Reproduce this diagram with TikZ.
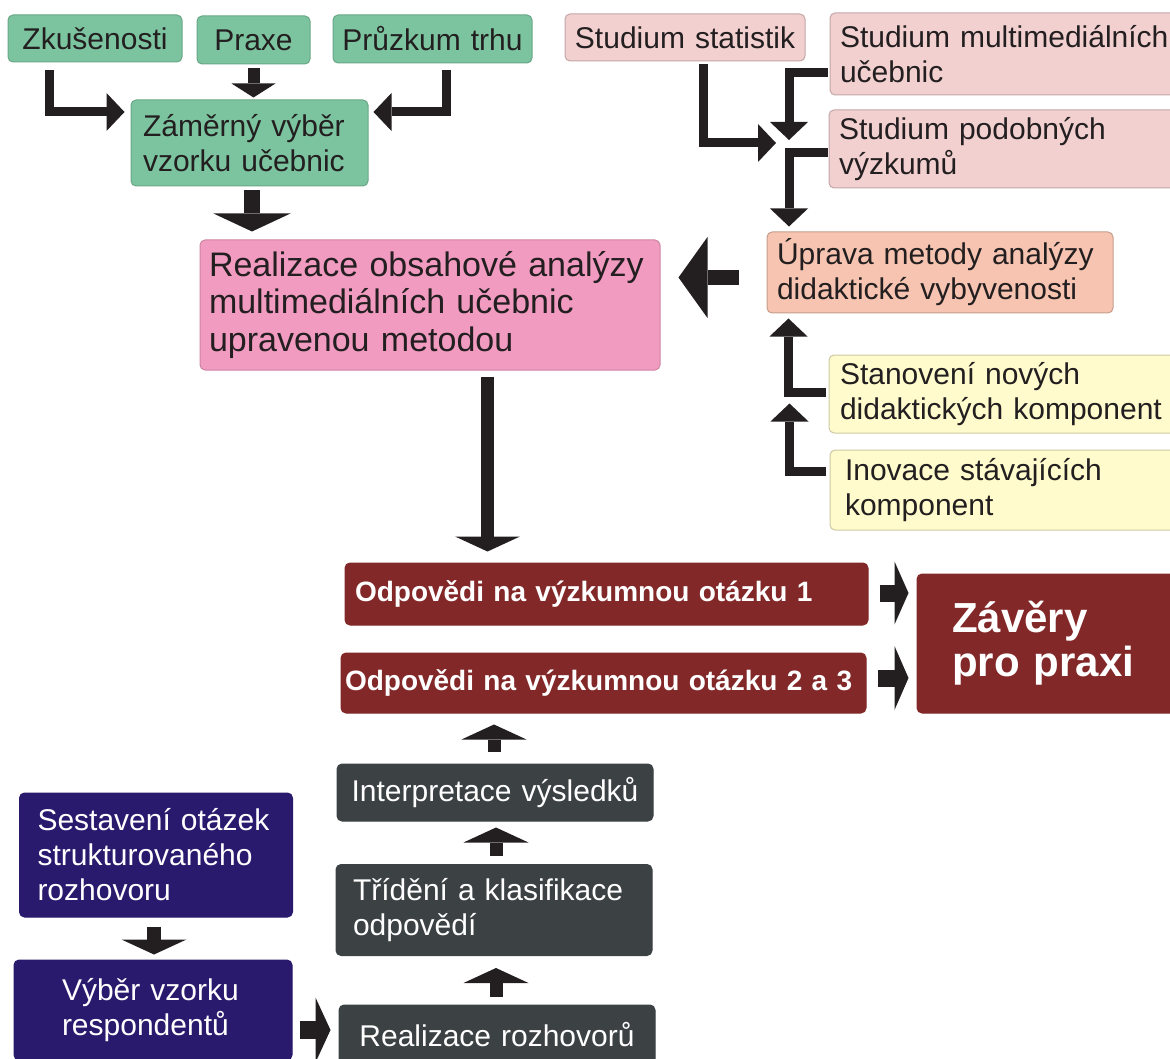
\documentclass[tikz,border=0pt]{standalone}
\usepackage{fontspec}
\setmainfont{Liberation Sans}
\usetikzlibrary{arrows.meta,calc}

\definecolor{cerna}{HTML}{231F20}
\definecolor{zelena}{HTML}{7CC49F}
\definecolor{ruzova}{HTML}{F2D0D0}
\definecolor{fialova}{HTML}{F19BC0}
\definecolor{losos}{HTML}{F6C4B0}
\definecolor{zluta}{HTML}{FFFBCC}
\definecolor{vinova}{HTML}{832829}
\definecolor{seda}{HTML}{3C4143}
\definecolor{modra}{HTML}{291A6E}

\newcommand{\pismo}{\fontsize{30}{35}\selectfont}
\newcommand{\pismovelke}{\fontsize{34}{37.5}\selectfont}
\newcommand{\pismotucne}{\bfseries\fontsize{28}{32}\selectfont}
\newcommand{\pismozavery}{\bfseries\fontsize{42}{44}\selectfont}

\tikzset{
	krok/.style={rounded corners=5pt, align=left, inner ysep=0pt, font=\pismo, text=cerna, line width=1pt},
	zeleny/.style={krok, fill=zelena, draw=zelena!85!black},
	ruzovy/.style={krok, fill=ruzova, draw=ruzova!80!black},
	fialovy/.style={krok, fill=fialova, draw=fialova!85!black},
	lososovy/.style={krok, fill=losos, draw=losos!80!black},
	zluty/.style={krok, fill=zluta, draw=zluta!80!black},
	vinovy/.style={krok, fill=vinova, draw=vinova, text=white, font=\pismotucne},
	sedy/.style={krok, fill=seda, draw=seda, text=white},
	modry/.style={krok, fill=modra, draw=modra, text=white},
	sipka/.style={draw=cerna, line width=9pt, line join=miter, -{Triangle[width=38pt,length=18pt,line width=0pt]}},
	tlusta/.style={draw=cerna, line width=14pt, -{Triangle[width=65pt,length=15pt,line width=0pt]}}
}

\begin{document}
\begin{tikzpicture}[x=1pt,y=-1pt]
				\useasboundingbox (0,0) rectangle (1170,1059);
				
				% Výběr učebnic
				\node[zeleny, align=center, text width=164pt, inner xsep=5pt, minimum height=47pt] (zkus) at (95,38.5) {Zkušenosti};
				\node[zeleny, align=center, text width=103pt, inner xsep=5pt, minimum height=48pt] (praxe) at (253.5,40) {Praxe};
				\node[zeleny, align=center, text width=189pt, inner xsep=5pt, minimum height=48pt] (pruzkum) at (432.5,39) {Průzkum trhu};
				\node[zeleny, text width=213pt, inner xsep=12pt, minimum height=86pt] (zamer) at (249.5,143) {Záměrný výběr\\vzorku učebnic};
				
				% Obsahová analýza
				\node[fialovy, font=\pismovelke, text width=442pt, inner xsep=9pt, minimum height=130pt] (realiz) at (430,305) {Realizace obsahové analýzy\\multimediálních učebnic\\upravenou metodou};
				
				% Úprava metody
				\node[ruzovy, align=center, text width=230pt, inner xsep=5pt, minimum height=47pt] (statist) at (685,37.5) {Studium statistik};
				\node[ruzovy, text width=335pt, inner xsep=10pt, minimum height=82pt] (multi) at (1007.5,54) {Studium multimediálních\\učebnic};
				\node[ruzovy, text width=336pt, inner xsep=10pt, minimum height=78pt] (podob) at (1007,149) {Studium podobných\\výzkumů};
				\node[lososovy, text width=326pt, inner xsep=10pt, minimum height=81pt] (uprava) at (940,272.5) {Úprava metody analýzy\\didaktické vybyvenosti};
				\node[zluty, text width=334pt, inner xsep=11pt, minimum height=78pt] (stanov) at (1007,394) {Stanovení nových\\didaktických komponent};
				\node[zluty, text width=325pt, inner xsep=15pt, minimum height=80pt] (inov) at (1007.5,490) {Inovace stávajících\\komponent};
				\coordinate (spoj) at (789,143);
				
				% Odpovědi a závěry
				\node[vinovy, text width=503pt, inner xsep=10pt, minimum height=62pt] (odp1) at (606.5,594) {Odpovědi na výzkumnou otázku 1};
				\node[vinovy, text width=517pt, inner xsep=4pt, minimum height=60pt] (odp23) at (603.5,683) {Odpovědi na výzkumnou otázku 2 a 3};
				\node[vinovy, font=\pismozavery, text width=198pt, inner xsep=35pt, minimum height=139pt] (zavery) at (1051,643.5) {Závěry\\pro praxi};
				
				% Rozhovory
				\node[sedy, align=center, text width=306pt, inner xsep=5pt, minimum height=57pt] (interp) at (495,792.5) {Interpretace výsledků};
				\node[sedy, text width=282pt, inner xsep=17pt, minimum height=91pt] (trid) at (494,910) {Třídění a klasifikace\\odpovědí};
				\node[sedy, align=center, text width=306pt, inner xsep=5pt, minimum height=60pt] (realroz) at (497,1035) {Realizace rozhovorů};
				\node[modry, text width=237pt, inner xsep=18pt, minimum height=124pt] (sestav) at (156,855) {Sestavení otázek\\strukturovaného\\rozhovoru};
				\node[modry, text width=182pt, inner xsep=48pt, minimum height=100pt] (vyber) at (153,1010) {Výběr vzorku\\respondentů};
				
				% Šipky nahoře
				\draw[sipka] ($(zkus.south west)+(42,8)$) |- ($(zamer.west)+(-6,-31)$);
				\draw[sipka, line width=12pt, -{Triangle[width=44pt,length=14pt,line width=0pt]}] ($(praxe.south)+(0,4)$) -- ($(praxe.south |- zamer.north)+(0,-2)$);
				\draw[sipka] ($(pruzkum.south east)+(-86,7)$) |- ($(zamer.east)+(5,-31)$);
				\draw[tlusta, line width=16pt, -{Triangle[width=77pt,length=18pt,line width=0pt]}] ($(zamer.south)+(2.5,4)$) -- ($(zamer.south |- realiz.north)+(2.5,-8)$);
				\draw[sipka] ($(statist.south)+(18,3)$) |- ($(spoj)+(-13,0)$);
				\draw[sipka] ($(multi.west)+(-2,19)$) -| ($(spoj)+(0,-3)$);
				\draw[sipka] ($(podob.west)+(-1,4)$) -| ($(spoj |- uprava.north)+(0,-5)$);
				\draw[tlusta, line width=15pt, -{Triangle[width=81pt,length=29pt,line width=0pt]}] ($(uprava.west)+(-28,5)$) -- ($(realiz.east |- uprava.west)+(18,5)$);
				\draw[sipka] ($(stanov.west)+(-3,-2)$) -| ($(uprava.south west)+(22,5)$);
				\draw[sipka] ($(inov.west)+(-4,-19)$) -| ($(stanov.south west)+(-39,-30)$);
				
				% Šipky dole
				\draw[tlusta, line width=13pt] ($(realiz.south)+(57.5,6)$) -- ($(realiz.south |- odp1.north)+(57.5,-11)$);
				\draw[tlusta, line width=17pt, -{Triangle[width=63pt,length=14pt,line width=0pt]}] ($(odp1.east)+(11,-1)$) -- ($(zavery.west |- odp1.east)+(-8,-1)$);
				\draw[tlusta, line width=17pt, -{Triangle[width=64pt,length=14pt,line width=0pt]}] ($(odp23.east)+(11,-5)$) -- ($(zavery.west |- odp23.east)+(-8,-5)$);
				\draw[tlusta, line width=13pt] ($(interp.north)+(-1,-12)$) -- ($(interp.north |- odp23.south)+(-1,11)$);
				\draw[tlusta, line width=13pt] ($(trid.north)+(2,-8)$) -- ($(trid.north |- interp.south)+(2,6)$);
				\draw[tlusta, line width=13pt] ($(realroz.north)+(-1,-8)$) -- ($(realroz.north |- trid.south)+(-1,12)$);
				\draw[tlusta] ($(sestav.south)+(-2,9)$) -- ($(sestav.south |- vyber.north)+(-2,-5)$);
				\draw[tlusta, line width=18pt] ($(vyber.east)+(7,20)$) -- ($(realroz.west |- vyber.east)+(-8,20)$);
\end{tikzpicture}
\end{document}
